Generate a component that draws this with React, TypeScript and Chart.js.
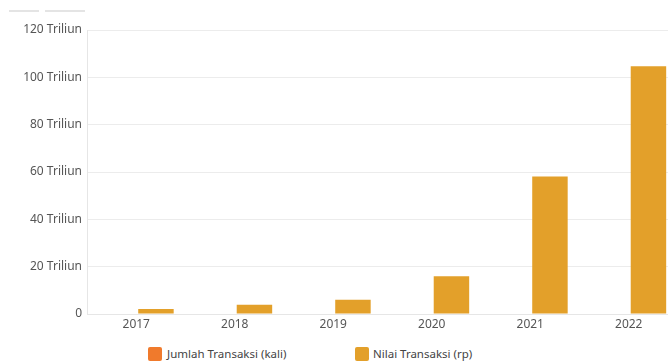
import React, { useEffect, useRef } from "react";
import { Chart, registerables } from "chart.js";

Chart.register(...registerables);

const years = ["2017", "2018", "2019", "2020", "2021", "2022"];
// Transaction counts are far too small to show on the trillion-rupiah axis (read as ~0).
const jumlahTransaksi = [0, 0, 0, 0, 0, 0];
// Transaction value in trillions of rupiah.
const nilaiTransaksi = [2.1, 3.9, 6.0, 15.9, 58.1, 104.7];
const yTicks = [0, 20, 40, 60, 80, 100, 120];

const ORANGE = "#F07A2C";
const GOLD = "#E3A02A";
const FONT = "'Noto Sans', 'Open Sans', sans-serif";

export default function App() {
  const canvasRef = useRef<HTMLCanvasElement | null>(null);

  useEffect(() => {
    if (!canvasRef.current) return;
    const chart = new Chart(canvasRef.current, {
      type: "bar",
      data: {
        labels: years,
        datasets: [
          { label: "Jumlah Transaksi (kali)", data: jumlahTransaksi, backgroundColor: ORANGE },
          { label: "Nilai Transaksi (rp)", data: nilaiTransaksi, backgroundColor: GOLD },
        ],
      },
      options: {
        animation: false,
        responsive: false,
        devicePixelRatio: 1,
        layout: { padding: { top: 30, right: 2, left: 0, bottom: 0 } },
        plugins: { legend: { display: false }, tooltip: { enabled: false } },
        scales: {
          x: {
            grid: { display: false, drawTicks: false },
            border: { color: "#e6e6e6" },
            ticks: { color: "#555", font: { family: FONT, size: 12 }, padding: 3, maxRotation: 0 },
            afterFit: (s: any) => { s.height = 20; },
          },
          y: {
            min: 0,
            max: 120,
            afterBuildTicks: (s: any) => { s.ticks = yTicks.map((v) => ({ value: v })); },
            grid: { color: "#ececec", drawTicks: false },
            border: { color: "#e6e6e6" },
            ticks: {
              color: "#555",
              font: { family: FONT, size: 12 },
              padding: 5,
              callback: (v: any) => (Number(v) === 0 ? "0" : v + " Triliun"),
            },
            afterFit: (s: any) => { s.width = 87; },
          },
        },
      },
    });
    return () => chart.destroy();
  }, []);

  const legendText: React.CSSProperties = {
    position: "absolute",
    top: 346,
    fontFamily: FONT,
    fontSize: 11.5,
    color: "#444",
    lineHeight: "16px",
    whiteSpace: "nowrap",
  };
  const box = (left: number, color: string): React.CSSProperties => ({
    position: "absolute",
    left,
    top: 347,
    width: 14,
    height: 14,
    borderRadius: 2,
    background: color,
  });

  return (
    <div style={{ position: "fixed", left: 0, top: 0, width: 668, height: 363, overflow: "hidden", background: "#fff" }}>
      <div style={{ position: "absolute", left: 9, top: 10, width: 30, height: 2, background: "#e4e4e4" }} />
      <div style={{ position: "absolute", left: 45, top: 10, width: 40, height: 2, background: "#e4e4e4" }} />
      <canvas ref={canvasRef} width={680} height={334} style={{ position: "absolute", left: 0, top: 0, width: 680, height: 334 }} />
      <div style={box(148, ORANGE)} />
      <div style={{ ...legendText, left: 167 }}>Jumlah Transaksi (kali)</div>
      <div style={box(355, GOLD)} />
      <div style={{ ...legendText, left: 373 }}>Nilai Transaksi (rp)</div>
    </div>
  );
}
